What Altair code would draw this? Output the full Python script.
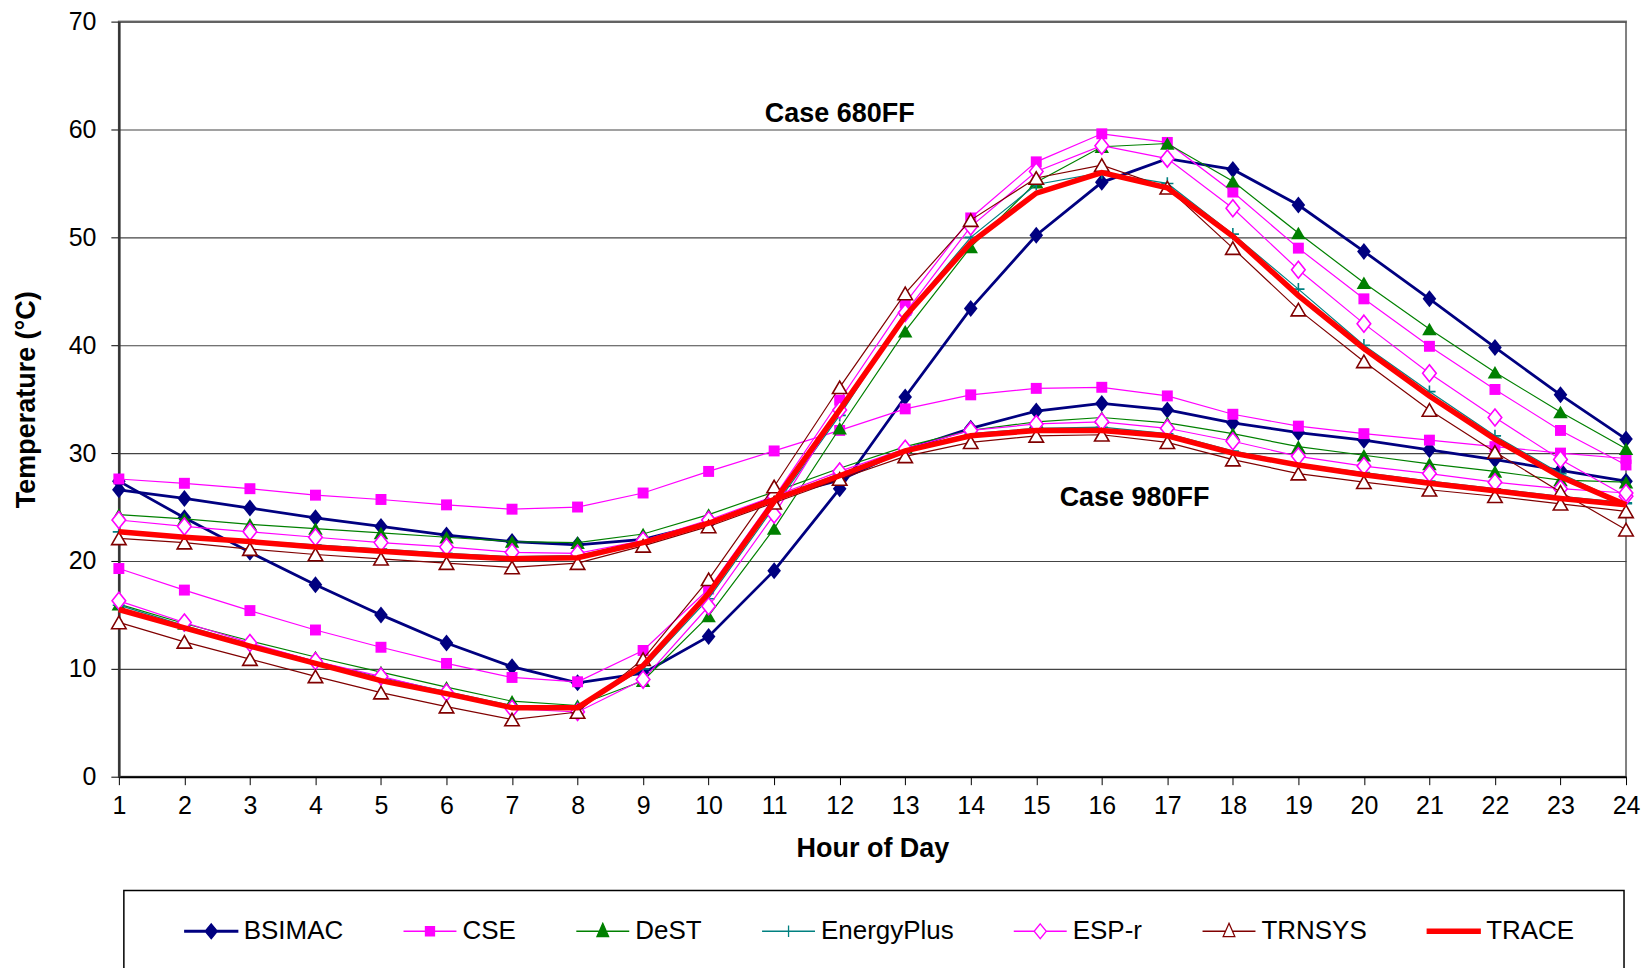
import altair as alt
import pandas as pd

hours = list(range(1, 25))
series = ["BSIMAC", "CSE", "DeST", "EnergyPlus", "ESP-r", "TRNSYS", "TRACE"]

BSIMAC_680 = [27.4, 24.0, 20.8, 17.8, 15.0, 12.4, 10.2, 8.7, 9.6, 13.0, 19.1, 26.7, 35.2, 43.4, 50.2, 55.1, 57.3, 56.3, 53.0, 48.7, 44.3, 39.8, 35.4, 31.3]
BSIMAC_980 = [26.6, 25.8, 24.9, 24.0, 23.2, 22.4, 21.8, 21.5, 22.0, 23.5, 25.9, 27.5, 30.3, 32.3, 33.9, 34.6, 34.0, 32.8, 31.9, 31.2, 30.3, 29.4, 28.4, 27.4]
CSE_680 = [19.3, 17.3, 15.4, 13.6, 12.0, 10.5, 9.2, 8.8, 11.7, 17.4, 25.9, 34.9, 43.9, 51.8, 57.0, 59.6, 58.8, 54.2, 49.0, 44.3, 39.9, 35.9, 32.1, 28.9]
CSE_980 = [27.6, 27.2, 26.7, 26.1, 25.7, 25.2, 24.8, 25.0, 26.3, 28.3, 30.2, 32.1, 34.1, 35.4, 36.0, 36.1, 35.3, 33.6, 32.5, 31.8, 31.2, 30.6, 30.0, 29.5]
DeST_680 = [16.0, 14.2, 12.6, 11.1, 9.7, 8.3, 7.0, 6.6, 8.9, 14.9, 23.0, 32.3, 41.3, 49.1, 55.1, 58.4, 58.7, 55.2, 50.4, 45.8, 41.5, 37.5, 33.8, 30.4]
DeST_980 = [24.3, 23.9, 23.4, 23.0, 22.6, 22.2, 21.8, 21.7, 22.5, 24.3, 26.4, 28.6, 30.6, 32.1, 32.9, 33.3, 32.8, 31.8, 30.6, 29.8, 29.0, 28.3, 27.5, 27.3]
EnergyPlus_680 = [15.9, 14.0, 12.3, 10.7, 9.2, 7.9, 6.6, 6.4, 10.0, 16.5, 25.0, 33.5, 42.8, 50.0, 54.9, 56.0, 55.0, 50.3, 45.2, 40.0, 35.7, 31.6, 28.1, 25.3]
EnergyPlus_980 = [22.7, 22.3, 21.9, 21.5, 21.1, 20.7, 20.4, 20.5, 21.8, 23.6, 25.8, 28.1, 30.2, 31.8, 32.3, 32.4, 31.8, 30.2, 29.0, 28.2, 27.4, 26.7, 26.0, 25.4]
ESPr_680 = [16.3, 14.3, 12.4, 10.7, 9.3, 7.8, 6.3, 6.0, 9.0, 15.8, 24.3, 34.0, 43.0, 51.0, 56.1, 58.5, 57.3, 52.7, 47.0, 42.0, 37.4, 33.3, 29.4, 26.0]
ESPr_980 = [23.8, 23.2, 22.7, 22.2, 21.7, 21.3, 20.8, 20.7, 21.9, 23.8, 26.0, 28.3, 30.4, 32.1, 32.7, 32.9, 32.3, 31.1, 29.7, 28.8, 28.1, 27.3, 26.7, 26.3]
TRNSYS_680 = [14.3, 12.5, 10.9, 9.3, 7.8, 6.5, 5.3, 6.0, 10.9, 18.3, 26.9, 36.1, 44.8, 51.6, 55.5, 56.7, 54.6, 49.0, 43.3, 38.5, 34.0, 30.1, 26.4, 22.9]
TRNSYS_980 = [22.1, 21.7, 21.1, 20.6, 20.2, 19.8, 19.4, 19.8, 21.4, 23.2, 25.4, 27.6, 29.7, 31.0, 31.6, 31.7, 31.0, 29.4, 28.1, 27.3, 26.6, 26.0, 25.3, 24.6]
TRACE_680 = [15.5, 13.8, 12.1, 10.5, 8.9, 7.7, 6.4, 6.4, 10.3, 17.0, 25.5, 34.0, 42.7, 49.5, 54.1, 56.0, 54.6, 50.1, 44.6, 39.7, 35.3, 31.3, 27.8, 25.2]
TRACE_980 = [22.7, 22.2, 21.8, 21.3, 20.9, 20.5, 20.2, 20.3, 21.7, 23.5, 25.7, 27.9, 30.2, 31.6, 32.1, 32.1, 31.6, 30.0, 28.9, 28.0, 27.2, 26.5, 25.8, 25.2]

case_labels = ["Case 680FF", "Case 980FF"]
case_label_hour = [12.0, 16.5]
case_label_temp = [61.4, 25.8]

values_680 = [BSIMAC_680, CSE_680, DeST_680, EnergyPlus_680, ESPr_680, TRNSYS_680, TRACE_680]
values_980 = [BSIMAC_980, CSE_980, DeST_980, EnergyPlus_980, ESPr_980, TRNSYS_980, TRACE_980]

rows = []
for name, v680, v980 in zip(series, values_680, values_980):
    for h, t in zip(hours, v680):
        rows.append({"series": name, "case": "680FF", "hour": h, "temp": t})
    for h, t in zip(hours, v980):
        rows.append({"series": name, "case": "980FF", "hour": h, "temp": t})
df = pd.DataFrame(rows)
labels_df = pd.DataFrame({"label": case_labels, "hour": case_label_hour, "temp": case_label_temp})

FONT = "Liberation Sans"

colors = ["#000080", "#FF00FF", "#008000", "#008080", "#FF00FF", "#800000", "#FF0000"]
line_widths = [2.8, 1.2, 1.2, 1.2, 1.2, 1.2, 5.5]
marker_shapes = [
    "M0,-1L0.8,0L0,1L-0.8,0Z",
    "square",
    "triangle-up",
    "M-1,0H1M0,-1V1",
    "M0,-1L0.8,0L0,1L-0.8,0Z",
    "triangle-up",
    None,
]
marker_fills = ["#000080", "#FF00FF", "#008000", "transparent", "white", "white", "transparent"]
marker_filled = [True, True, True, False, False, False, False]
marker_sizes = [290, 120, 210, 150, 290, 210, 0]
marker_strokes = [1, 1, 1, 1.6, 1.6, 1.6, 1]

x_enc = alt.X("hour:Q", scale=alt.Scale(domain=[1, 24], nice=False, zero=False),
              axis=alt.Axis(values=hours, format="d", title="Hour of Day", grid=False,
                            tickSize=8, labelPadding=9, titlePadding=17, labelFlush=False,
                            domainColor="#000000", domainWidth=2, tickColor="#000000"))
y_enc = alt.Y("temp:Q", scale=alt.Scale(domain=[0, 70], nice=False),
              axis=alt.Axis(values=list(range(0, 71, 10)), title="Temperature (°C)", grid=True,
                            gridColor="#444444", gridWidth=1.1, tickSize=8, labelPadding=15,
                            titlePadding=28, labelFlush=False, domainColor="#333333",
                            domainWidth=2.5, tickColor="#000000"))

base = alt.Chart(df)
layers = []
for i, name in enumerate(series):
    sub = base.transform_filter(alt.datum.series == name)
    layers.append(sub.mark_line(color=colors[i], strokeWidth=line_widths[i]).encode(
        x=x_enc, y=y_enc, detail="case:N"))
    if marker_shapes[i] is not None:
        layers.append(sub.mark_point(shape=marker_shapes[i], filled=marker_filled[i],
                                     color=colors[i], fill=marker_fills[i],
                                     size=marker_sizes[i], strokeWidth=marker_strokes[i],
                                     opacity=1).encode(x=x_enc, y=y_enc))

text_layer = alt.Chart(labels_df).mark_text(font=FONT, fontSize=27, fontWeight="bold", color="#000000").encode(
    x=alt.X("hour:Q"), y=alt.Y("temp:Q"), text="label:N")
layers.append(text_layer)

main = alt.layer(*layers).properties(
    width=1509, height=756,
    view=alt.ViewBackground(stroke="#808080", strokeWidth=2),
)

legend_paths = [
    "M-1,-0.03H1V0.03H-1ZM0,-0.28L0.23,0L0,0.28L-0.23,0Z",
    "M-1,0H1M-0.17,-0.17H0.17V0.17H-0.17Z",
    "M-1,0H1M0,-0.3L0.22,0.2L-0.22,0.2Z",
    "M-1,0H1M0,-0.22V0.22",
    "M-1,0H-0.23M0.23,0H1M0,-0.28L0.23,0L0,0.28L-0.23,0Z",
    "M-1,0H-0.13M0.13,0H1M0,-0.3L0.22,0.2L-0.22,0.2Z",
    "M-1,-0.075H1V0.075H-1Z",
]
legend_fills = ["#000080", "#FF00FF", "#008000", "transparent", "white", "white", "#FF0000"]

leg = alt.Legend(title=None, orient="none", legendX=65, legendY=13, direction="horizontal",
                 columns=7, columnPadding=57, labelFont=FONT, labelFontSize=26,
                 labelColor="#000000", labelOffset=5, symbolSize=2809, padding=0,
                 symbolStrokeWidth=1.3, labelLimit=400)

legend_points = alt.Chart(df).transform_filter("false").mark_point(size=2809, opacity=1, filled=False).encode(
    color=alt.Color("series:N", scale=alt.Scale(domain=series, range=colors), legend=leg),
    fill=alt.Fill("series:N", scale=alt.Scale(domain=series, range=legend_fills), legend=leg),
    shape=alt.Shape("series:N", scale=alt.Scale(domain=series, range=legend_paths), legend=leg),
)
legend_box = alt.Chart(alt.Data(values=[{"box": 1}])).mark_rect(
    filled=False, stroke="#000000", strokeWidth=1.5
).encode(x=alt.value(5), x2=alt.value(1507), y=alt.value(0), y2=alt.value(160))

legend_chart = alt.layer(legend_box, legend_points).properties(
    width=1509, height=100, view=alt.ViewBackground(strokeOpacity=0)
)

chart = alt.vconcat(main, legend_chart, spacing=27).resolve_scale(
    color="independent", fill="independent", shape="independent"
).resolve_legend(
    color="independent", fill="independent", shape="independent"
).properties(
    padding={"left": 3, "top": 0, "right": 0, "bottom": 0}
).configure(
    font=FONT
).configure_axis(
    labelFont=FONT, titleFont=FONT, labelFontSize=25, titleFontSize=27,
    titleFontWeight="bold", labelColor="#000000", titleColor="#000000"
)

chart.save("out.html", embed_options={"renderer": "svg", "actions": False})
